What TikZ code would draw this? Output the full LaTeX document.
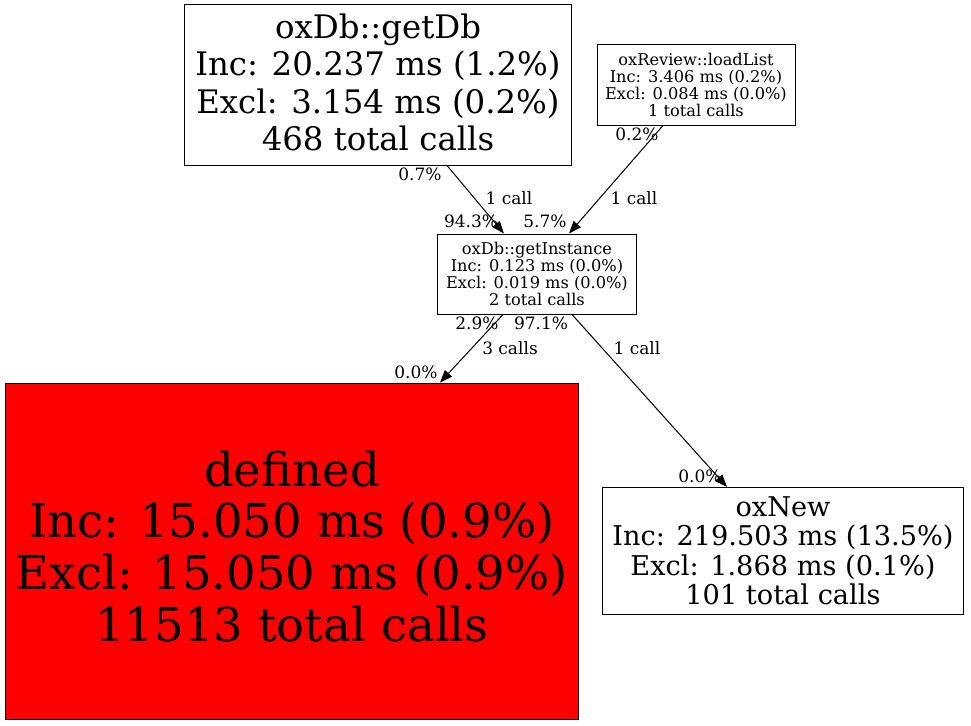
\documentclass[tikz,border=0pt]{standalone}
\usepackage{fontspec}
\setmainfont{DejaVu Serif}
\usetikzlibrary{arrows.meta}
\tikzset{
  fn/.style={draw, line width=1pt, align=center, inner sep=0pt},
  lbl/.style={font=\fontsize{17}{19}\selectfont, inner sep=0pt},
  call/.style={-{Triangle[length=12.5pt,width=9.5pt]}, line width=1pt},
}
\newcommand{\fnsmall}{\fontsize{16.2}{17}\selectfont}
\begin{document}
\begin{tikzpicture}[x=1pt,y=-1pt]
  \useasboundingbox (0,0) rectangle (971,725);
  % functions
  \node[fn, minimum width=387pt, minimum height=160pt, text depth=6pt, font=\fontsize{32.4}{37.5}\selectfont] (getDb) at (378,85)
    {oxDb::getDb\\Inc: 20.237 ms (1.2\%)\\Excl: 3.154 ms (0.2\%)\\468 total calls};
  \node[fn, minimum width=198pt, minimum height=80pt, font=\fnsmall] (loadList) at (696,85)
    {oxReview::loadList\\Inc: 3.406 ms (0.2\%)\\Excl: 0.084 ms (0.0\%)\\1 total calls};
  \node[fn, minimum width=199pt, minimum height=80pt, font=\fnsmall] (getInstance) at (537,274)
    {oxDb::getInstance\\Inc: 0.123 ms (0.0\%)\\Excl: 0.019 ms (0.0\%)\\2 total calls};
  \node[fn, fill=red, minimum width=573pt, minimum height=336pt, text depth=10pt, font=\fontsize{46.6}{51.7}\selectfont] (defined) at (292,551)
    {defined\\Inc: 15.050 ms (0.9\%)\\Excl: 15.050 ms (0.9\%)\\11513 total calls};
  \node[fn, minimum width=361pt, minimum height=127pt, font=\fontsize{27.2}{29.5}\selectfont] (oxNew) at (783,551)
    {oxNew\\Inc: 219.503 ms (13.5\%)\\Excl: 1.868 ms (0.1\%)\\101 total calls};
  % calls
  \draw[call] ([xshift=69pt]getDb.south) -- ([xshift=-33pt]getInstance.north);
  \draw[call] ([xshift=-33pt]loadList.south) -- ([xshift=32pt]getInstance.north);
  \draw[call] ([xshift=-34pt]getInstance.south) -- ([xshift=148pt]defined.north);
  \draw[call] ([xshift=35pt]getInstance.south) -- ([xshift=-56pt]oxNew.north);
  % labels
  \node[lbl] (c1) at (509,198) {1 call};
  \node[lbl] (c2) at (634,198) {1 call};
  \node[lbl] (c3) at (510,348) {3 calls};
  \node[lbl] (c4) at (637,348) {1 call};
  \node[lbl] (t1) at (420,174) {0.7\%};
  \node[lbl] (t2) at (637,134) {0.2\%};
  \node[lbl] (t3) at (477,323) {2.9\%};
  \node[lbl] (t4) at (541,323) {97.1\%};
  \node[lbl] (h1) at (471,221) {94.3\%};
  \node[lbl] (h2) at (545,221) {5.7\%};
  \node[lbl] (h3) at (416,372) {0.0\%};
  \node[lbl] (h4) at (700,476) {0.0\%};
\end{tikzpicture}
\end{document}
